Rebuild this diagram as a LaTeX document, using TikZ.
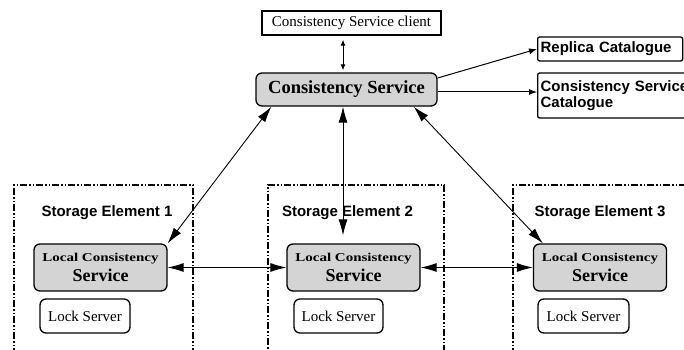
\documentclass[tikz,border=0pt]{standalone}
\usepackage{fontspec}
\usepackage{graphicx}
\setmainfont{Liberation Serif}
\setsansfont{Liberation Sans}
\usetikzlibrary{calc,arrows.meta}
\definecolor{lcsgray}{gray}{0.83}

\begin{document}
\begin{tikzpicture}[x=1pt,y=-1pt,
  box/.style={draw,line width=1.3pt,rectangle,inner sep=0pt,align=center},
  plainbox/.style={box,font=\fontsize{15}{18}\selectfont},
  csbox/.style={box,rounded corners=6pt,fill=lcsgray},
  lockbox/.style={box,rounded corners=6pt,fill=white,minimum height=34pt,
    font=\fontsize{15}{18}\selectfont},
  catbox/.style={box,rounded corners=2pt,anchor=west,align=left,inner xsep=3pt,
    font=\sffamily\bfseries\fontsize{15}{18}\selectfont},
  sebox/.style={draw,line width=1.1pt,inner sep=0pt,
    dash pattern=on 7pt off 2pt on 1.5pt off 2pt on 1.5pt off 2pt},
  selabel/.style={font=\sffamily\bfseries\fontsize{15}{18}\selectfont,inner sep=0pt},
  lcs/.style={csbox,minimum width=133pt,minimum height=47pt},
  dbl/.style={line width=0.9pt,
    arrows={Latex[length=16pt,width=9pt]-Latex[length=16pt,width=9pt]}},
  smalldbl/.style={line width=1pt,
    arrows={Latex[length=6pt,width=5pt]-Latex[length=6pt,width=5pt]}},
  catarrow/.style={line width=1pt,arrows={-Latex[length=8pt,width=6pt]}}
]
\path[use as bounding box] (0,0) rectangle (684,350);
\clip (0,0) rectangle (684,350);

% storage element frames
\node[sebox,minimum width=179pt,minimum height=167pt] (se1) at (103.5,268.5) {};
\node[sebox,minimum width=176pt,minimum height=167pt] (se2) at (356,268.5) {};
\node[sebox,minimum width=187pt,minimum height=167pt] (se3) at (606.5,268.5) {};
\node[selabel] (se1l) at (107,213) {Storage Element 1};
\node[selabel] (se2l) at (347.5,213) {Storage Element 2};
\node[selabel] (se3l) at (600,213) {Storage Element 3};

% top level services
\node[plainbox,minimum width=179pt,minimum height=24pt] (client) at (351.5,23)
  {Consistency Service client};
\node[csbox,minimum width=181pt,minimum height=33pt,
  font=\bfseries\fontsize{18.5}{20}\selectfont] (cs) at (346.5,89.5)
  {Consistency Service};
\node[catbox,text width=139pt,minimum height=24pt] (rep) at (537,49)
  {Replica Catalogue};
\node[catbox,text width=154pt,minimum height=45pt] (csc) at (537,95.5)
  {Consistency Service\\[-2pt]Catalogue};

% local services
\newcommand{\lcstext}{{\fontsize{12}{13}\selectfont\scalebox{1.25}[1]{Local Consistency}}\\[4pt]
  {\fontsize{18}{18}\selectfont Service}}
\node[lcs,font=\bfseries] (lcs1) at (100.5,267.5) {\lcstext};
\node[lcs,font=\bfseries] (lcs2) at (353.5,267.5) {\lcstext};
\node[lcs,font=\bfseries] (lcs3) at (600,267.5) {\lcstext};
\node[lockbox,minimum width=90pt] (lock1) at (85,316) {Lock Server};
\node[lockbox,minimum width=89pt] (lock2) at (338.5,316) {Lock Server};
\node[lockbox,minimum width=91pt] (lock3) at (583.5,316) {Lock Server};

% connectors
\draw[smalldbl,shorten <=4pt,shorten >=2pt] ($(client.south)+(-8.5,0)$) -- ($(cs.north)+(-3.5,0)$);
\draw[catarrow] ($(cs.east)+(0,-11.5)$) -- (rep.west);
\draw[catarrow] ($(cs.east)+(0,2.5)$) -- ($(csc.west)+(0,-3.5)$);
\draw[dbl] ($(cs.south west)+(16,0)$) -- (lcs1.north east);
\draw[dbl] ($(cs.south)+(-3.5,0)$) -- ($(lcs2.north)+(-10.5,-8)$);
\draw[dbl] ($(cs.south east)+(-24,0)$) -- ($(lcs3.north west)+(10,0)$);
\draw[dbl] (lcs1.east) -- (lcs2.west);
\draw[dbl] (lcs2.east) -- (lcs3.west);
\end{tikzpicture}
\end{document}
